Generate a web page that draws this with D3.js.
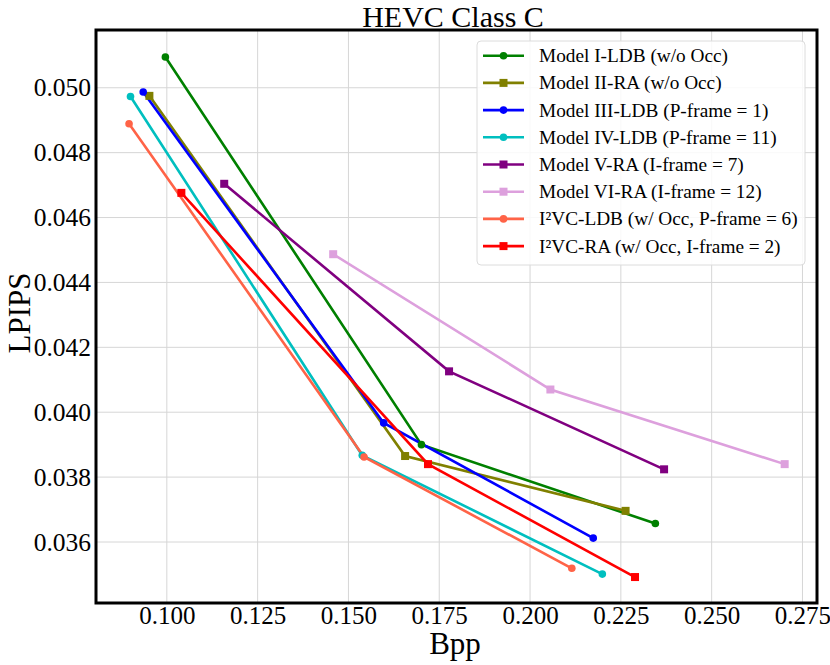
<!DOCTYPE html>
<html>
<head>
<meta charset="utf-8">
<script src="https://cdn.jsdelivr.net/npm/d3@7"></script>
<style>
  body { margin: 0; background: #fff; }
  text { font-family: "Liberation Serif", "Times New Roman", serif; }
</style>
</head>
<body>
<div id="chart"></div>
<script>
// series names, colours and markers
var seriesNames = [
  "Model I-LDB (w/o Occ)",
  "Model II-RA (w/o Occ)",
  "Model III-LDB (P-frame = 1)",
  "Model IV-LDB (P-frame = 11)",
  "Model V-RA (I-frame = 7)",
  "Model VI-RA (I-frame = 12)",
  "I\u00b2VC-LDB (w/ Occ, P-frame = 6)",
  "I\u00b2VC-RA (w/ Occ, I-frame = 2)"
];
var colors = ["#008000", "#808000", "#0000ff", "#00bfbf", "#800080", "#dda0dd", "#ff6347", "#ff0000"];
var markers = ["circle", "square", "circle", "circle", "square", "square", "circle", "square"];

// bpp values per series
var bppI   = [0.0996, 0.1701, 0.2345];
var bppII  = [0.0952, 0.1656, 0.2263];
var bppIII = [0.0935, 0.1597, 0.2174];
var bppIV  = [0.0900, 0.1538, 0.2199];
var bppV   = [0.1158, 0.1777, 0.2369];
var bppVI  = [0.1458, 0.2056, 0.2701];
var bppLDB = [0.0896, 0.1543, 0.2115];
var bppRA  = [0.1040, 0.1719, 0.2289];

// LPIPS values per series
var lpipsI   = [0.05095, 0.03900, 0.03657];
var lpipsII  = [0.04975, 0.03865, 0.03696];
var lpipsIII = [0.04987, 0.03967, 0.03612];
var lpipsIV  = [0.04973, 0.03867, 0.03501];
var lpipsV   = [0.04704, 0.04126, 0.03824];
var lpipsVI  = [0.04487, 0.04070, 0.03840];
var lpipsLDB = [0.04889, 0.03862, 0.03519];
var lpipsRA  = [0.04676, 0.03840, 0.03492];

var xTicks = [0.100, 0.125, 0.150, 0.175, 0.200, 0.225, 0.250, 0.275];
var yTicks = [0.036, 0.038, 0.040, 0.042, 0.044, 0.046, 0.048, 0.050];

var allBpp = [bppI, bppII, bppIII, bppIV, bppV, bppVI, bppLDB, bppRA];
var allLpips = [lpipsI, lpipsII, lpipsIII, lpipsIV, lpipsV, lpipsVI, lpipsLDB, lpipsRA];

var data = seriesNames.map(function(name, i) {
  return {
    name: name, color: colors[i], marker: markers[i],
    values: allBpp[i].map(function(b, j) { return {x: b, y: allLpips[i][j]}; })
  };
});

// set the dimensions and margins of the graph
var margin = {top: 30, right: 13, bottom: 62, left: 96},
    width = 830 - margin.left - margin.right,
    height = 665 - margin.top - margin.bottom;

var svg = d3.select("#chart")
  .append("svg")
    .attr("width", 830)
    .attr("height", 665);

var g = svg.append("g")
    .attr("transform", "translate(" + margin.left + "," + margin.top + ")");

var x = d3.scaleLinear()
  .domain([0.0805, 0.2790])
  .range([0, width]);

var y = d3.scaleLinear()
  .domain([0.03412, 0.05178])
  .range([height, 0]);

// grid
g.append("g")
  .selectAll("line.gx")
  .data(xTicks)
  .enter().append("line")
    .attr("x1", function(d) { return x(d); })
    .attr("x2", function(d) { return x(d); })
    .attr("y1", 0).attr("y2", height)
    .attr("stroke", "#d6d6d6").attr("stroke-width", 1);

g.append("g")
  .selectAll("line.gy")
  .data(yTicks)
  .enter().append("line")
    .attr("y1", function(d) { return y(d); })
    .attr("y2", function(d) { return y(d); })
    .attr("x1", 0).attr("x2", width)
    .attr("stroke", "#d6d6d6").attr("stroke-width", 1);

// axes (labels only, no tick marks)
var xAxis = g.append("g")
  .attr("transform", "translate(0," + height + ")")
  .call(d3.axisBottom(x).tickValues(xTicks).tickFormat(d3.format(".3f")).tickSize(0))
  .attr("font-family", "Liberation Serif")
  .attr("font-size", 25);
xAxis.select(".domain").remove();
xAxis.selectAll("text")
  .attr("y", 21).attr("dy", 0)
  .attr("fill", "#000");

var yAxis = g.append("g")
  .call(d3.axisLeft(y).tickValues(yTicks).tickFormat(d3.format(".3f")).tickSize(0).tickPadding(5))
  .attr("font-family", "Liberation Serif")
  .attr("font-size", 25.5);
yAxis.select(".domain").remove();
yAxis.selectAll("text")
  .attr("fill", "#000");

// lines
var line = d3.line()
  .x(function(d) { return x(d.x); })
  .y(function(d) { return y(d.y); });

data.forEach(function(s) {
  g.append("path")
    .datum(s.values)
    .attr("d", line)
    .attr("fill", "none")
    .attr("stroke", s.color)
    .attr("stroke-width", 2.6);
});

function drawMarker(sel, type, cx, cy, color) {
  if (type === "circle") {
    sel.append("circle").attr("cx", cx).attr("cy", cy).attr("r", 3.8).attr("fill", color);
  } else {
    sel.append("rect").attr("x", cx - 4).attr("y", cy - 4).attr("width", 8).attr("height", 8).attr("fill", color);
  }
}

data.forEach(function(s) {
  s.values.forEach(function(d) {
    drawMarker(g, s.marker, x(d.x), y(d.y), s.color);
  });
});

// frame
g.append("rect")
  .attr("width", width).attr("height", height)
  .attr("fill", "none").attr("stroke", "#000").attr("stroke-width", 3);

// legend
var legend = g.append("g").attr("transform", "translate(" + (477 - margin.left) + "," + (41 - margin.top) + ")");
legend.append("rect")
  .attr("width", 328).attr("height", 224)
  .attr("rx", 4)
  .attr("fill", "#fff").attr("fill-opacity", 0.85)
  .attr("stroke", "#dcdcdc").attr("stroke-width", 1);

data.forEach(function(s, i) {
  var ly = 14.7 + i * 27.2;
  legend.append("line")
    .attr("x1", 6).attr("x2", 47)
    .attr("y1", ly).attr("y2", ly)
    .attr("stroke", s.color).attr("stroke-width", 2.6);
  drawMarker(legend, s.marker, 26.5, ly, s.color);
  legend.append("text")
    .attr("x", 62).attr("y", ly + 6.5)
    .style("font-size", "19.3px")
    .text(s.name);
});

// title and axis labels
svg.append("text")
  .attr("x", 453).attr("y", 27)
  .attr("text-anchor", "middle")
  .style("font-size", "30px")
  .text("HEVC Class C");

svg.append("text")
  .attr("x", 455).attr("y", 654)
  .attr("text-anchor", "middle")
  .style("font-size", "31px")
  .text("Bpp");

svg.append("text")
  .attr("transform", "translate(30,313) rotate(-90)")
  .attr("text-anchor", "middle")
  .style("font-size", "31px")
  .text("LPIPS");
</script>
</body>
</html>
